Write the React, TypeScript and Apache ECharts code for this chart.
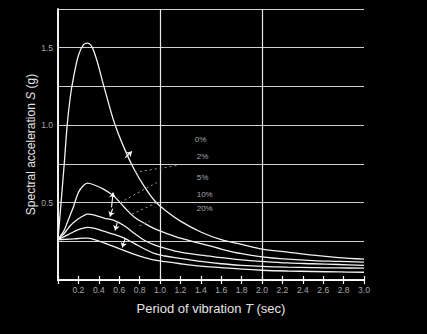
import React, { useEffect, useRef } from "react";
import * as echarts from "echarts";

const periods = [0, 0.03, 0.06, 0.09, 0.12, 0.15, 0.2, 0.25, 0.29, 0.35, 0.45, 0.55, 0.65, 0.75, 0.85, 0.95, 1.05, 1.2, 1.4, 1.6, 1.8, 2.0, 2.25, 2.5, 2.75, 3.0];
const damp0 = [0.26, 0.5, 0.74, 1.0, 1.18, 1.3, 1.45, 1.52, 1.53, 1.48, 1.25, 1.02, 0.85, 0.71, 0.6, 0.51, 0.45, 0.38, 0.31, 0.26, 0.23, 0.2, 0.18, 0.16, 0.145, 0.135];
const damp2 = [0.26, 0.29, 0.32, 0.37, 0.42, 0.47, 0.565, 0.61, 0.625, 0.615, 0.585, 0.54, 0.47, 0.405, 0.365, 0.33, 0.305, 0.27, 0.235, 0.2, 0.17, 0.15, 0.135, 0.125, 0.12, 0.115];
const damp5 = [0.26, 0.28, 0.3, 0.325, 0.35, 0.37, 0.395, 0.415, 0.425, 0.42, 0.4, 0.385, 0.35, 0.3, 0.255, 0.225, 0.205, 0.18, 0.16, 0.145, 0.13, 0.12, 0.11, 0.105, 0.1, 0.095];
const damp10 = [0.26, 0.27, 0.28, 0.29, 0.3, 0.31, 0.325, 0.335, 0.34, 0.335, 0.315, 0.295, 0.27, 0.235, 0.2, 0.17, 0.155, 0.14, 0.12, 0.105, 0.095, 0.088, 0.083, 0.08, 0.078, 0.077];
const damp20 = [0.26, 0.261, 0.262, 0.263, 0.264, 0.265, 0.268, 0.27, 0.27, 0.262, 0.24, 0.215, 0.19, 0.165, 0.145, 0.128, 0.118, 0.105, 0.09, 0.08, 0.07, 0.063, 0.058, 0.055, 0.052, 0.05];

const dampingLabels = ["0%", "2%", "5%", "10%", "20%"];
const labelPos: [number, number][] = [[1.34, 0.91], [1.36, 0.8], [1.36, 0.66], [1.36, 0.55], [1.36, 0.46]];

const arrows: [number, number, number, number][] = [
  [0.66, 0.79, 0.725, 0.83],
  [0.525, 0.47, 0.54, 0.565],
  [0.535, 0.46, 0.51, 0.41],
  [0.58, 0.37, 0.56, 0.32],
  [0.66, 0.27, 0.63, 0.21],
];
const leaders: [number, number, number, number][] = [
  [0.755, 0.695, 1.17, 0.74],
  [0.61, 0.5, 0.97, 0.63],
  [0.725, 0.425, 0.97, 0.5],
  [0.8, 0.35, 0.9, 0.38],
];

const xTickLabel = (v: number) => (v === 0 ? "" : v.toFixed(1));
const yTickLabel = (v: number) => (Math.abs(v * 2 - Math.round(v * 2)) < 1e-6 && v > 0 ? v.toFixed(1) : "");

export default function App() {
  const ref = useRef<HTMLDivElement>(null);
  useEffect(() => {
    document.body.style.margin = "0";
    document.body.style.background = "#000";
    const chart = echarts.init(ref.current!, null, { renderer: "svg" });
    const curves = [damp0, damp2, damp5, damp10, damp20];
    const lineColor = "#f2f2f2";
    const font = "Liberation Sans, Arial, sans-serif";
    const series: any[] = curves.map((vals, i) => ({
      type: "line",
      name: dampingLabels[i],
      data: periods.map((t, k) => [t, vals[k]]),
      smooth: 0.35,
      symbol: "none",
      lineStyle: { color: lineColor, width: 1.3 },
      z: 3,
    }));
    series.push({
      type: "line",
      data: [],
      markLine: {
        silent: true,
        animation: false,
        symbol: "none",
        label: { show: false },
        lineStyle: { color: "#e8e8e8", width: 1.2, type: "solid" },
        data: [{ xAxis: 1.0 }, { xAxis: 2.0 }],
      },
    });
    series.push({
      type: "line",
      data: [],
      markLine: {
        silent: true,
        animation: false,
        symbol: ["none", "arrow"],
        symbolSize: 5,
        label: { show: false },
        lineStyle: { color: "#ffffff", width: 1.1, type: "solid" },
        itemStyle: { color: "#ffffff" },
        data: arrows.map(([a, b, c, d]) => [{ coord: [a, b] }, { coord: [c, d] }]),
      },
    });
    series.push({
      type: "line",
      data: [],
      markLine: {
        silent: true,
        animation: false,
        symbol: "none",
        label: { show: false },
        lineStyle: { color: "#9a9a9a", width: 1, type: [2, 3] },
        data: leaders.map(([a, b, c, d]) => [{ coord: [a, b] }, { coord: [c, d] }]),
      },
    });

    chart.setOption({
      animation: false,
      backgroundColor: "#000",
      grid: { left: 58, right: 63, top: 9, bottom: 54 },
      xAxis: [
        {
          type: "value",
          min: 0,
          max: 3,
          interval: 0.2,
          position: "bottom",
          name: "Period of vibration {i|T} (sec)",
          nameLocation: "middle",
          nameGap: 22,
          nameTextStyle: {
            color: "#e6e6e6",
            fontSize: 13,
            fontFamily: font,
            rich: { i: { fontStyle: "italic", color: "#e6e6e6", fontSize: 13, fontFamily: font } },
          },
          axisLine: { show: true, lineStyle: { color: "#fff", width: 1.5 } },
          axisTick: { show: true, inside: true, length: 4, lineStyle: { color: "#fff", width: 1.2 } },
          axisLabel: { formatter: xTickLabel, color: "#a8a8a8", fontSize: 8.5, fontFamily: font, margin: 5 },
          splitLine: { show: false },
        },
        {
          type: "value",
          min: 0,
          max: 3,
          interval: 0.2,
          position: "top",
          axisLine: { show: true, lineStyle: { color: "#fff", width: 1.5 } },
          axisTick: { show: true, inside: true, length: 4, lineStyle: { color: "#fff", width: 1.2 } },
          axisLabel: { show: false },
          splitLine: { show: false },
        },
      ],
      yAxis: [
        {
          type: "value",
          min: 0,
          max: 1.75,
          interval: 0.25,
          name: "Spectral acceleration {i|S} (g)",
          nameLocation: "middle",
          nameGap: 21,
          nameMoveOverlap: false,
          nameTextStyle: {
            color: "#e6e6e6",
            fontSize: 12,
            fontFamily: font,
            rich: { i: { fontStyle: "italic", color: "#e6e6e6", fontSize: 12, fontFamily: font } },
          },
          axisLine: { show: true, lineStyle: { color: "#fff", width: 1.5 } },
          axisTick: { show: false },
          axisLabel: { formatter: yTickLabel, color: "#a8a8a8", fontSize: 8.5, fontFamily: font, margin: 5 },
          splitLine: { show: true, lineStyle: { color: "#d0d0d0", width: 1 } },
        },
        {
          type: "value",
          min: 0,
          max: 1.75,
          interval: 0.25,
          position: "right",
          axisLine: { show: true, lineStyle: { color: "#fff", width: 1.5 } },
          axisTick: { show: false },
          axisLabel: { show: false },
          splitLine: { show: false },
        },
      ],
      series,
    });

    const texts = labelPos.map((p, i) => {
      const px = chart.convertToPixel({ gridIndex: 0 }, p) as number[];
      return {
        type: "text",
        x: px[0],
        y: px[1],
        style: {
          text: dampingLabels[i],
          fill: "#a8a8a8",
          fontSize: 8,
          fontFamily: font,
          verticalAlign: "middle",
          align: "left",
        },
      };
    });
    chart.setOption({ graphic: texts });
    return () => chart.dispose();
  }, []);
  return <div ref={ref} style={{ width: 427, height: 334, background: "#000" }} />;
}
